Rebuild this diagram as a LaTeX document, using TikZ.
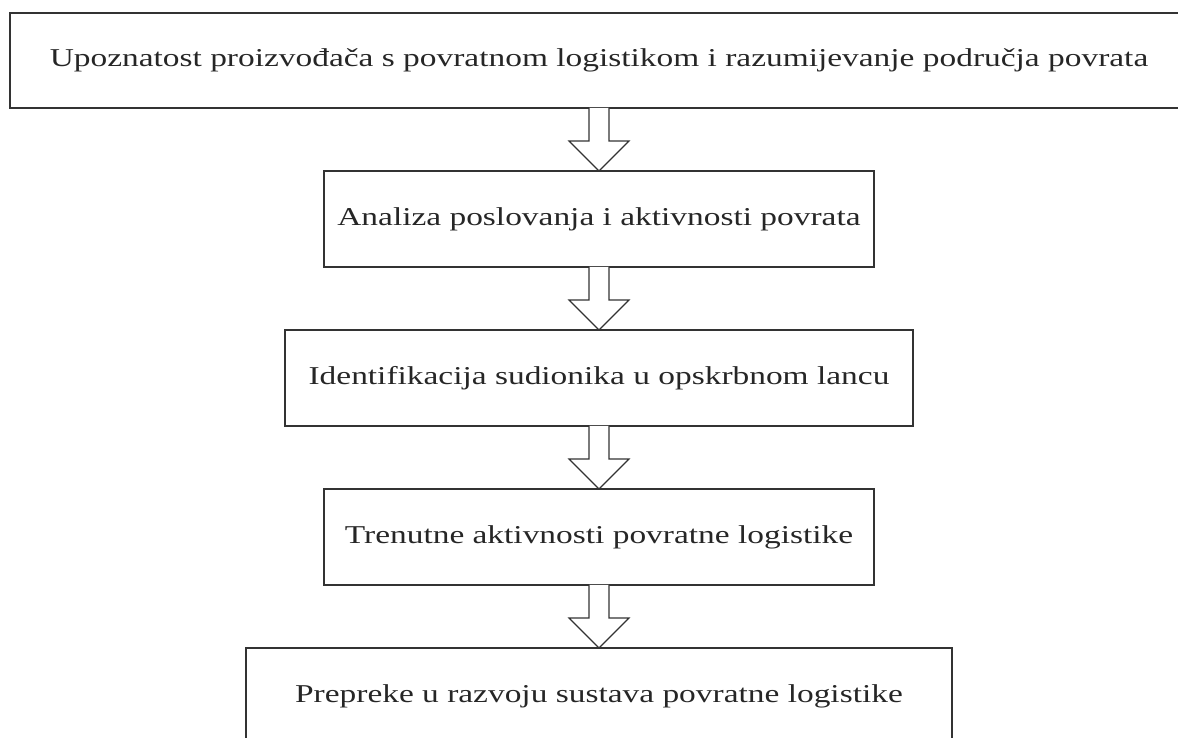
\documentclass[tikz,border=0pt]{standalone}
\usepackage{fontspec}
\setmainfont{Liberation Serif}[FakeStretch=1.3]
\usetikzlibrary{positioning,calc}

\tikzset{
  stepbox/.style={draw=black!80, line width=1.6pt, minimum height=96pt,
    outer sep=0pt, inner sep=0pt, text=black!85,
    font=\fontsize{25.7}{30}\selectfont},
  blockarrow/.style={draw=black!80, line width=1.2pt, fill=white, line join=miter}
}
% hollow arrow from the bottom of one box to the top of the next
\newcommand{\flowarrow}[2]{%
  \draw[blockarrow] ($(#1.south)+(-10,0)$) -- ++(0,-33) -- ++(-20,0) -- (#2.north)
    -- ($(#1.south)+(30,-33)$) -- ++(-20,0) -- ($(#1.south)+(10,0)$);}

\begin{document}
\begin{tikzpicture}[x=1pt,y=1pt,node distance=63pt]
	% the page
	\useasboundingbox (0,0) rectangle (1178,738);

	\node[stepbox, minimum width=1178pt, minimum height=95pt] (upoznatost) at (599,677.5)
		{Upoznatost proizvođača s povratnom logistikom i razumijevanje područja povrata};
	\node[stepbox, minimum width=550pt, below=of upoznatost] (analiza)
		{Analiza poslovanja i aktivnosti povrata};
	\node[stepbox, minimum width=628pt, below=of analiza] (sudionici)
		{Identifikacija sudionika u opskrbnom lancu};
	\node[stepbox, minimum width=550pt, below=of sudionici] (aktivnosti)
		{Trenutne aktivnosti povratne logistike};
	\node[stepbox, minimum width=706pt, below=of aktivnosti] (prepreke)
		{Prepreke u razvoju sustava povratne logistike};

	%\draw[help lines] (0,0) grid[step=50] (1178,738);
	\flowarrow{upoznatost}{analiza}
	\flowarrow{analiza}{sudionici}
	\flowarrow{sudionici}{aktivnosti}
	\flowarrow{aktivnosti}{prepreke}
\end{tikzpicture}
\end{document}
